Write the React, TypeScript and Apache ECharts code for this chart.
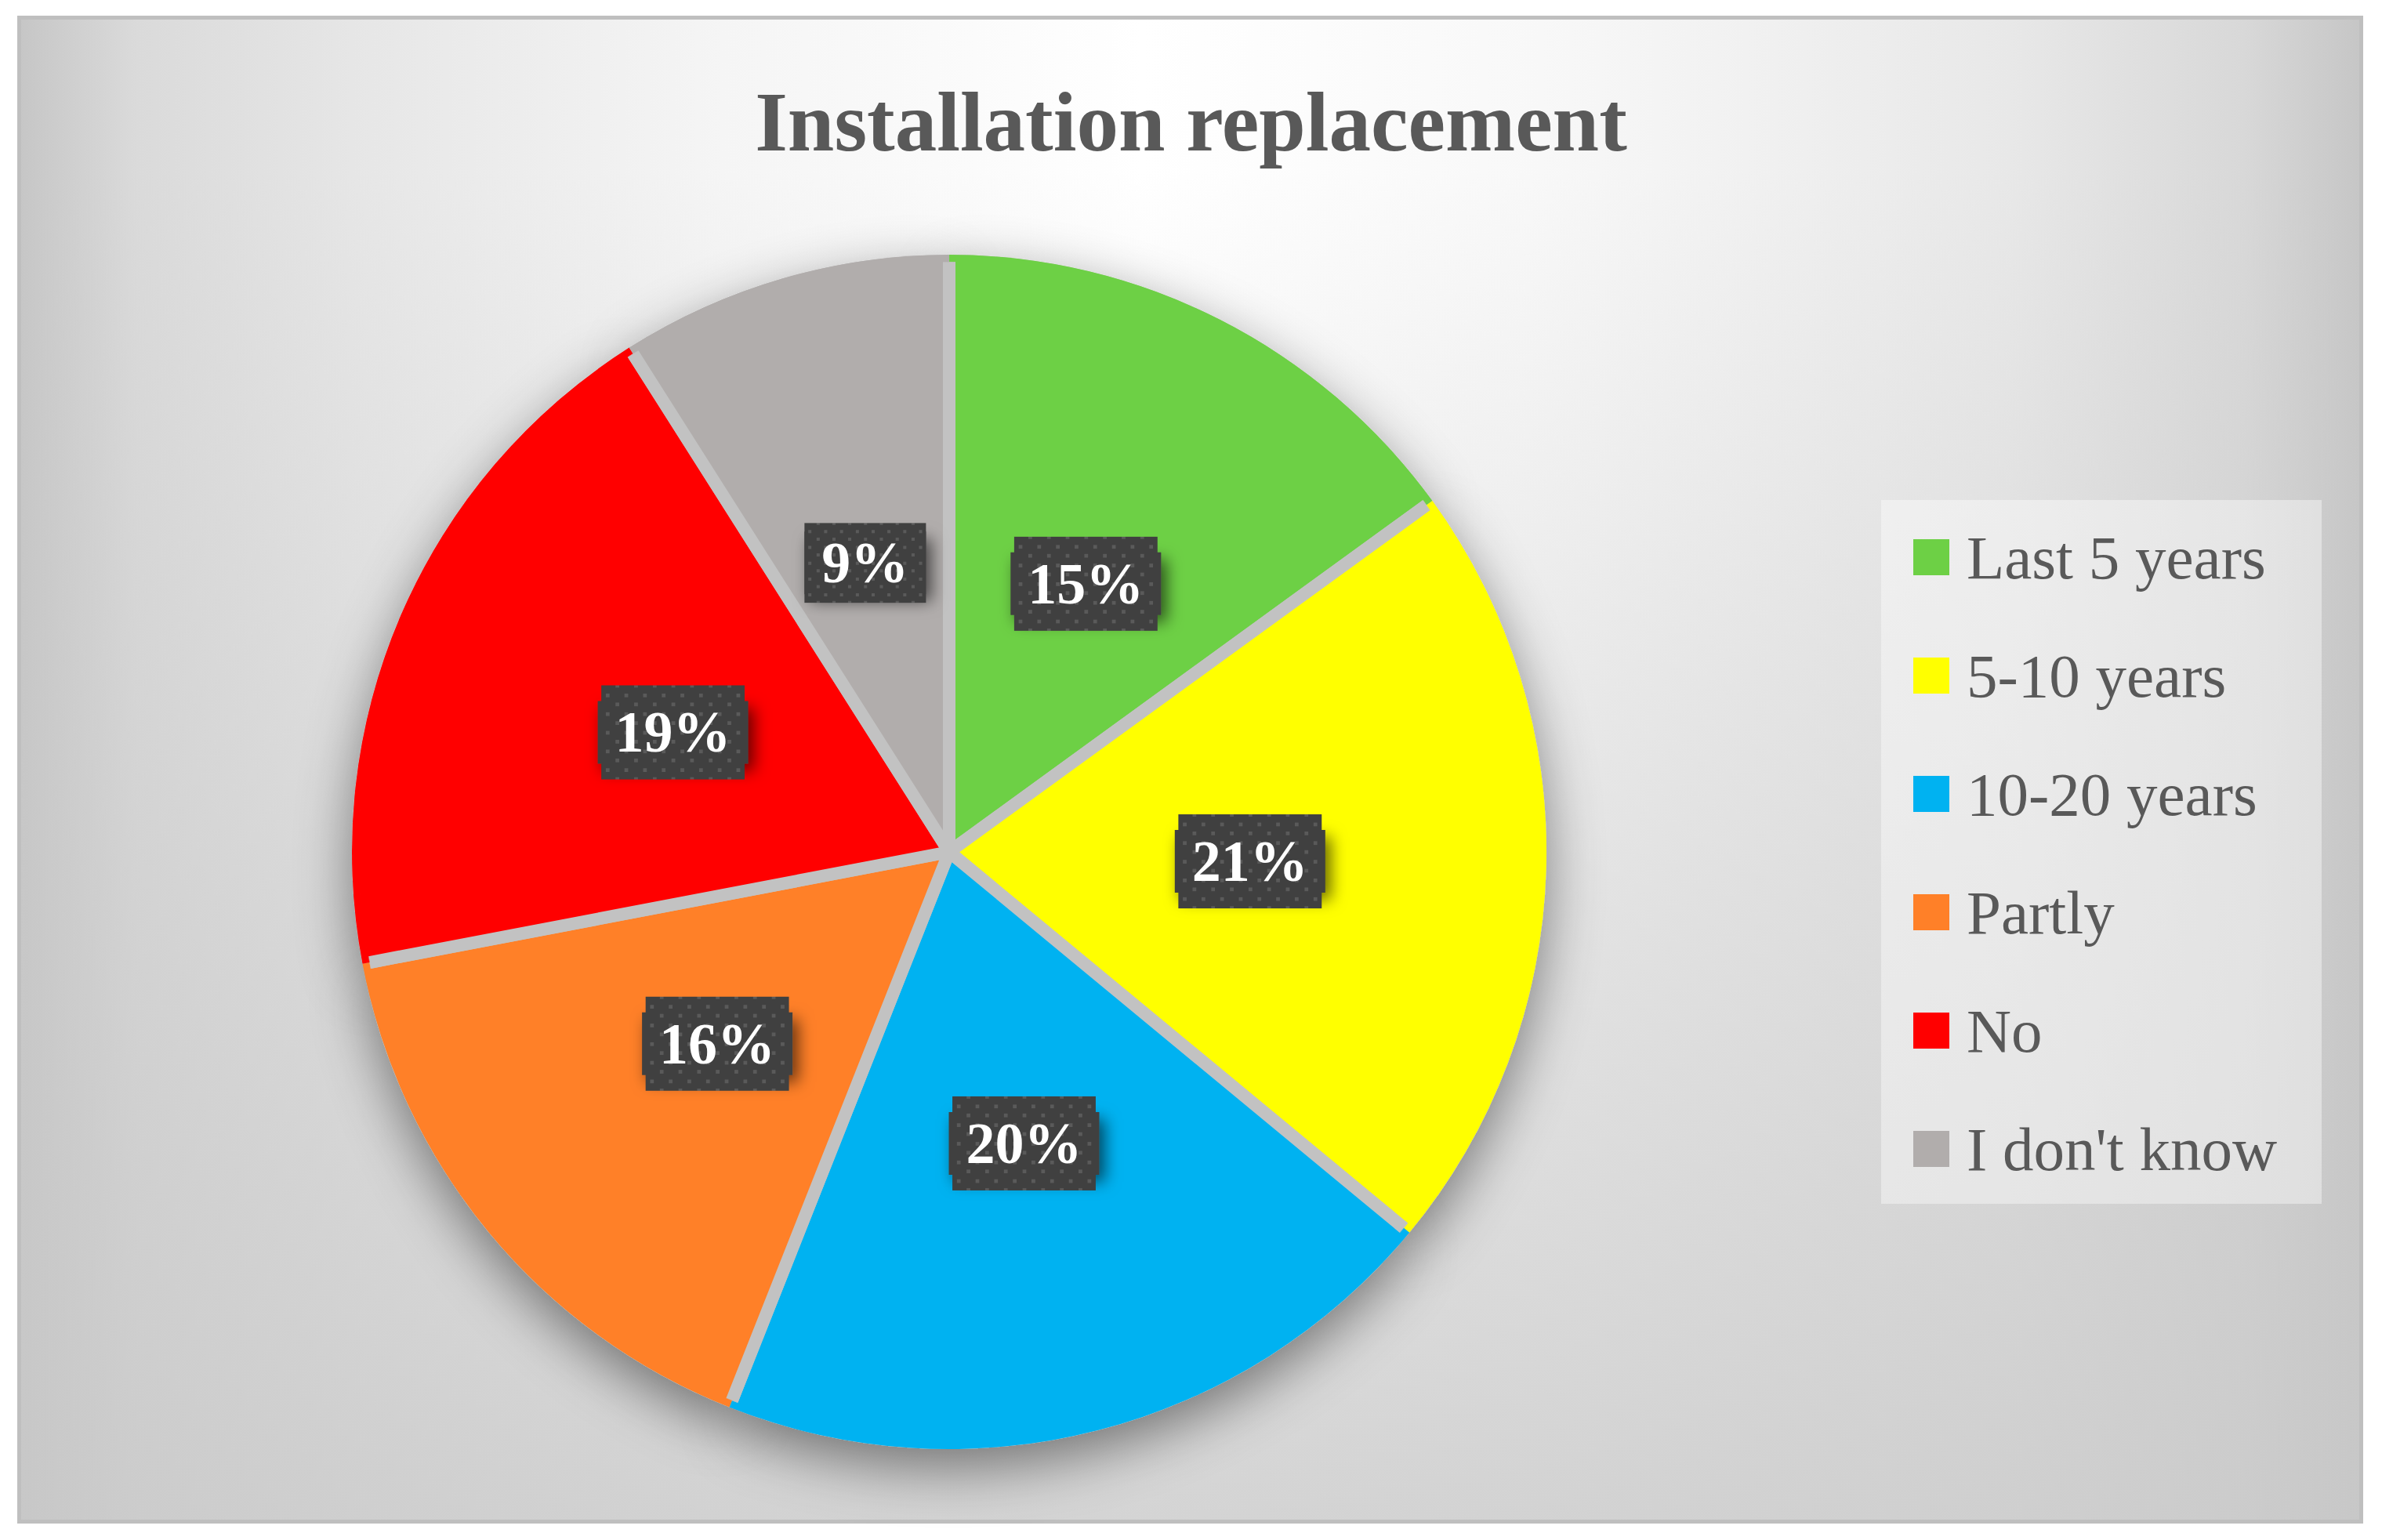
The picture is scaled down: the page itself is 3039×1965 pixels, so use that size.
import React, { useEffect, useRef } from "react";
import * as echarts from "echarts";

const categories = ["Last 5 years", "5-10 years", "10-20 years", "Partly", "No", "I don't know"];
const values = [15, 21, 20, 16, 19, 9];
const colors = ["#6dd045", "#ffff00", "#00b2f1", "#ff8028", "#ff0000", "#b1adac"];
const titleText = "Installation replacement";

const CX = 1211;
const CY = 1087;
const R = 762;

function makePattern(w: number, h: number): string {
  const c = document.createElement("canvas");
  c.width = w;
  c.height = h;
  const ctx = c.getContext("2d");
  if (!ctx) return "";
  ctx.fillStyle = "#404040";
  ctx.fillRect(0, 0, w, h);
  ctx.fillStyle = "#5a5a5a";
  for (let row = 0; row * 12.5 < h + 12; row++) {
    const y = row * 12.5 - 2;
    const off = row % 2 ? 0 : 12.5;
    for (let x = off + 6; x < w; x += 25) {
      ctx.fillRect(Math.round(x), Math.round(y), 5, 5);
    }
  }
  return c.toDataURL();
}

export default function App() {
  const ref = useRef<HTMLDivElement>(null);
  useEffect(() => {
    if (!ref.current) return;
    const chart = echarts.init(ref.current, undefined, { renderer: "svg" });
    const pattern = makePattern(192, 126);
    const BW = 16;
    const rg = R + BW / 2;
    const borderGrad = {
      type: "radial",
      x: CX,
      y: CY,
      r: rg,
      global: true,
      colorStops: [
        { offset: 0, color: "#c2c2c2" },
        { offset: (R - BW / 2 - 2) / rg, color: "#c2c2c2" },
        { offset: (R - BW / 2 - 0.5) / rg, color: "rgba(194,194,194,0)" },
        { offset: 1, color: "rgba(194,194,194,0)" },
      ],
    };
    const option: any = {
      animation: false,
      backgroundColor: "#ffffff",
      graphic: [
        {
          type: "rect",
          silent: true,
          shape: { x: 24.5, y: 22.5, width: 2988, height: 1919 },
          style: {
            fill: {
              type: "linear",
              x: 0,
              y: 0,
              x2: 1,
              y2: 0,
              colorStops: [
                { offset: 0, color: "#c6c6c6" },
                { offset: 0.05, color: "#dadada" },
                { offset: 0.15, color: "#e7e7e7" },
                { offset: 0.3, color: "#f5f5f5" },
                { offset: 0.48, color: "#ffffff" },
                { offset: 0.65, color: "#f8f8f8" },
                { offset: 0.85, color: "#e8e8e8" },
                { offset: 0.95, color: "#d8d8d8" },
                { offset: 1, color: "#c6c6c6" },
              ],
            },
            stroke: "#bfbfbf",
            lineWidth: 5,
          },
        },
        {
          type: "rect",
          silent: true,
          shape: { x: 27, y: 25, width: 2983, height: 1914 },
          style: {
            fill: {
              type: "linear",
              x: 0,
              y: 0,
              x2: 0,
              y2: 1,
              colorStops: [
                { offset: 0, color: "rgba(200,200,200,0)" },
                { offset: 0.1, color: "rgba(200,200,200,0)" },
                { offset: 1, color: "rgba(200,200,200,0.78)" },
              ],
            },
          },
        },
        {
          type: "rect",
          silent: true,
          shape: { x: 2400, y: 638, width: 562, height: 898 },
          style: { fill: "rgba(255,255,255,0.4)" },
        },
      ],
      title: {
        text: titleText,
        left: "center",
        top: 102,
        padding: 0,
        textStyle: {
          fontFamily: "Liberation Serif",
          fontWeight: "bold",
          fontSize: 107,
          color: "#595959",
        },
      },
      legend: {
        orient: "vertical",
        left: 2440,
        top: 671,
        padding: 0,
        itemWidth: 46,
        itemHeight: 46,
        itemGap: 71,
        icon: "rect",
        selectedMode: false,
        data: categories,
        textStyle: {
          fontFamily: "Liberation Serif",
          fontSize: 79,
          lineHeight: 80,
          color: "#595959",
          padding: [0, 0, 0, 17],
        },
      },
      series: [
        {
          type: "pie",
          name: "main",
          z: 3,
          center: [CX, CY],
          radius: R,
          startAngle: 90,
          clockwise: true,
          emphasis: { disabled: true },
          data: categories.map((n, i) => ({ name: n, value: values[i], itemStyle: { color: colors[i] } })),
          itemStyle: { borderWidth: BW, borderColor: borderGrad },
          labelLine: { show: false },
          label: {
            show: true,
            position: "inside",
            formatter: (p: any) => "{p|" + Math.round(p.percent) + "%}",
            padding: 0,
            backgroundColor: "#404040",
            shadowColor: "rgba(0,0,0,0.6)",
            shadowBlur: 20,
            shadowOffsetX: 7,
            shadowOffsetY: 9,
            rich: {
              p: {
                color: "#ffffff",
                fontFamily: "Liberation Serif",
                fontWeight: "bold",
                fontSize: 74,
                lineHeight: 80,
                padding: [23, 22],
                backgroundColor: { image: pattern },
              },
            },
          },
        },
        {
          type: "pie",
          name: "base",
          z: 1,
          silent: true,
          center: [CX, CY],
          radius: R,
          startAngle: 90,
          clockwise: true,
          emphasis: { disabled: true },
          data: categories.map((n, i) => ({ name: n, value: values[i] })),
          itemStyle: {
            color: "#c2c2c2",
            shadowBlur: 70,
            shadowOffsetY: 24,
            shadowColor: "rgba(0,0,0,0.45)",
          },
          label: { show: false },
          labelLine: { show: false },
        },
      ],
    };
    chart.setOption(option);
    return () => chart.dispose();
  }, []);
  return (
    <div
      ref={ref}
      style={{ position: "fixed", left: 0, top: 0, width: "3039px", height: "1965px", background: "#ffffff" }}
    />
  );
}
